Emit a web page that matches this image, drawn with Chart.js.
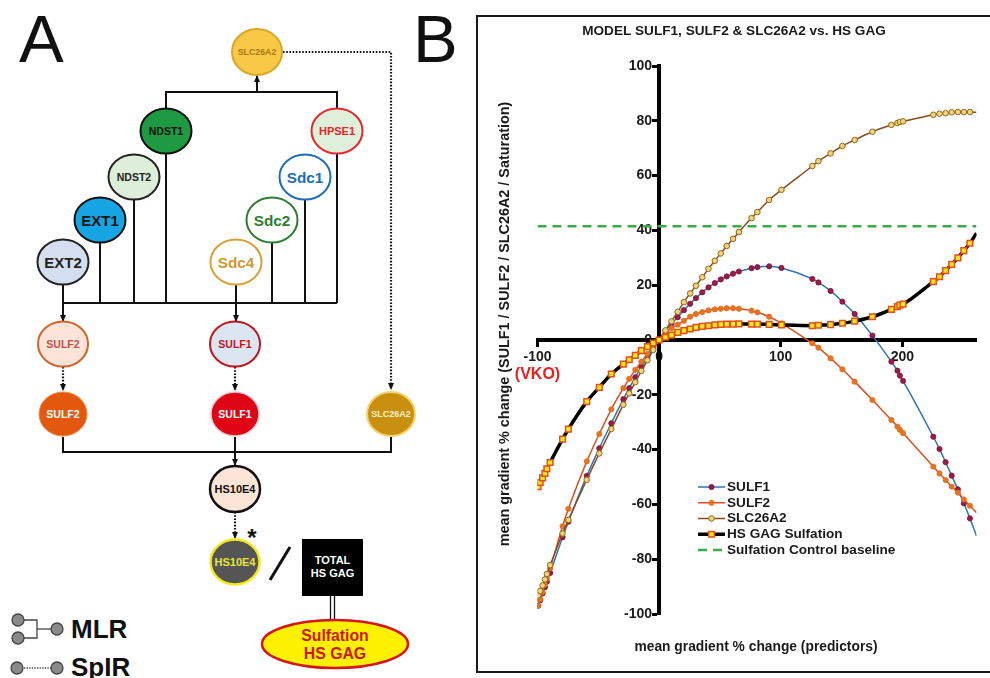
<!DOCTYPE html>
<html>
<head>
<meta charset="utf-8">
<script src="https://cdn.jsdelivr.net/npm/chart.js@4.4.1/dist/chart.umd.min.js"></script>
<style>
  html, body { margin: 0; padding: 0; background: #fff; overflow: hidden; }
  body { width: 990px; height: 678px; position: relative; font-family: "Liberation Sans", Arial, sans-serif; }
  #diagram { position: absolute; left: 0; top: 0; }
  #panelB { position: absolute; left: 476px; top: 15px; width: 520px; height: 654px; border: 2px solid #1a1a1a; }
  #chartB { position: absolute; left: 0; top: 0; }
</style>
</head>
<body>

<svg id="diagram" width="470" height="678" viewBox="0 0 470 678">
  <defs>
    <marker id="ah" viewBox="0 0 8 8" markerWidth="7" markerHeight="7" refX="7" refY="4" orient="auto" markerUnits="userSpaceOnUse">
      <path d="M0,0.5 L8,4 L0,7.5 z" fill="#111"/>
    </marker>
  </defs>
  <g font-family="'Liberation Sans', Arial, sans-serif">
    <text x="19" y="62" font-size="67" fill="#111">A</text>
    <text x="413" y="62" font-size="67" fill="#111">B</text>

    <!-- connectors -->
    <g stroke="#111" stroke-width="2" fill="none">
      <polyline points="166,109 166,92 337,92 337,109"/>
      <line x1="257" y1="92" x2="257" y2="76" marker-end="url(#ah)"/>
      <line x1="63" y1="303" x2="337" y2="303"/>
      <line x1="63" y1="285" x2="63" y2="321" marker-end="url(#ah)"/>
      <line x1="100" y1="243" x2="100" y2="303"/>
      <line x1="134" y1="200" x2="134" y2="303"/>
      <line x1="166" y1="153" x2="166" y2="303"/>
      <line x1="337" y1="153" x2="337" y2="303"/>
      <line x1="305" y1="200" x2="305" y2="303"/>
      <line x1="272" y1="243" x2="272" y2="303"/>
      <line x1="236" y1="285" x2="236" y2="321" marker-end="url(#ah)"/>
      <polyline points="63,437 63,452 391,452 391,437"/>
      <line x1="235" y1="437" x2="235" y2="465" marker-end="url(#ah)"/>
    </g>
    <g stroke="#111" stroke-width="2.2" fill="none" stroke-dasharray="1.6 1.6">
      <polyline points="283,52 391,52 391,389" marker-end="url(#ah)"/>
      <line x1="63" y1="367" x2="63" y2="390" marker-end="url(#ah)"/>
      <line x1="235" y1="367" x2="235" y2="390" marker-end="url(#ah)"/>
      <line x1="235" y1="512" x2="235" y2="538" marker-end="url(#ah)"/>
    </g>

    <!-- nodes -->
    <g font-weight="bold" text-anchor="middle" dominant-baseline="central">
      <ellipse cx="257" cy="52" rx="25" ry="23" fill="#F7C945" stroke="#DBA527" stroke-width="2"/>
      <text x="257" y="52" font-size="8.8" fill="#A8780F">SLC26A2</text>

      <ellipse cx="166" cy="131" rx="25.5" ry="22.5" fill="#1E9A42" stroke="#111" stroke-width="2"/>
      <text x="166" y="131" font-size="10.5" fill="#111">NDST1</text>

      <ellipse cx="134" cy="177" rx="25.5" ry="22.5" fill="#DDEFD8" stroke="#222" stroke-width="2"/>
      <text x="134" y="177" font-size="10.5" fill="#222">NDST2</text>

      <ellipse cx="100" cy="220" rx="25.5" ry="22.5" fill="#14A5E2" stroke="#111" stroke-width="2"/>
      <text x="100" y="220" font-size="15" fill="#111">EXT1</text>

      <ellipse cx="63" cy="262" rx="25.5" ry="22.5" fill="#D4DEEF" stroke="#222" stroke-width="2"/>
      <text x="63" y="262" font-size="15" fill="#222">EXT2</text>

      <ellipse cx="337" cy="131" rx="25.5" ry="22.5" fill="#DFF0DA" stroke="#E8262A" stroke-width="2"/>
      <text x="337" y="131" font-size="11" fill="#E8262A">HPSE1</text>

      <ellipse cx="305" cy="177" rx="25.5" ry="22.5" fill="#fff" stroke="#1B6DB5" stroke-width="2"/>
      <text x="305" y="177" font-size="15.3" fill="#1B6DB5">Sdc1</text>

      <ellipse cx="272" cy="220" rx="25.5" ry="22.5" fill="#fff" stroke="#2F7D2F" stroke-width="2"/>
      <text x="272" y="220" font-size="15.3" fill="#2F7D2F">Sdc2</text>

      <ellipse cx="236" cy="262" rx="25.5" ry="22.5" fill="#fff" stroke="#D9A035" stroke-width="2"/>
      <text x="236" y="262" font-size="15.3" fill="#D09A30">Sdc4</text>

      <ellipse cx="63" cy="344" rx="25" ry="22.5" fill="#FCE4D8" stroke="#D2632D" stroke-width="2"/>
      <text x="63" y="344" font-size="10.5" fill="#C0504D">SULF2</text>

      <ellipse cx="235" cy="344" rx="25" ry="22.5" fill="#DCE6F2" stroke="#C0141C" stroke-width="2"/>
      <text x="235" y="344" font-size="10.5" fill="#C0141C">SULF1</text>

      <ellipse cx="63" cy="414" rx="24" ry="22" fill="#E2590E" stroke="#EB8A4E" stroke-width="1"/>
      <text x="63" y="414" font-size="10.5" fill="#fff">SULF2</text>

      <ellipse cx="235" cy="414" rx="24" ry="22" fill="#E00515" stroke="#E7C7D6" stroke-width="1.5"/>
      <text x="235" y="414" font-size="10.5" fill="#fff">SULF1</text>

      <ellipse cx="391" cy="414" rx="24" ry="22" fill="#C99010" stroke="#F3D36C" stroke-width="2"/>
      <text x="391" y="414" font-size="9" fill="#FFF2C8">SLC26A2</text>

      <ellipse cx="235" cy="489" rx="25" ry="23" fill="#FCE4D6" stroke="#111" stroke-width="2.5"/>
      <text x="235" y="489" font-size="11" fill="#111">HS10E4</text>

      <ellipse cx="235" cy="562" rx="24.5" ry="22.5" fill="#555" stroke="#F2EA1C" stroke-width="2.5"/>
      <text x="235" y="562" font-size="11" fill="#E8E43A">HS10E4</text>

      <text x="252" y="537" font-size="24" fill="#111">*</text>
    </g>

    <line x1="290" y1="547" x2="270" y2="580" stroke="#111" stroke-width="3"/>
    <rect x="302" y="539" width="61" height="57" fill="#000"/>
    <g font-weight="bold" text-anchor="middle" font-size="11" fill="#fff">
      <text x="332.5" y="564">TOTAL</text>
      <text x="332.5" y="577">HS GAG</text>
    </g>
    <line x1="330.5" y1="596" x2="330.5" y2="622" stroke="#111" stroke-width="1.3"/>
    <line x1="334.5" y1="596" x2="334.5" y2="622" stroke="#111" stroke-width="1.3"/>
    <ellipse cx="335" cy="644" rx="73" ry="24" fill="#FFF200" stroke="#D8141A" stroke-width="2.5"/>
    <g font-weight="bold" text-anchor="middle" font-size="15.8" fill="#D01515">
      <text x="335" y="641">Sulfation</text>
      <text x="335" y="658.5">HS GAG</text>
    </g>

    <!-- key -->
    <g stroke="#444" stroke-width="1.3">
      <polyline points="24,620 37,620 37,638 24,638" fill="none"/>
      <line x1="37" y1="629" x2="51" y2="629"/>
      <circle cx="18" cy="620" r="6" fill="#8a8a8a"/>
      <circle cx="18" cy="638" r="6" fill="#8a8a8a"/>
      <circle cx="57" cy="629" r="6" fill="#8a8a8a"/>
      <line x1="24" y1="668" x2="51" y2="668" stroke-dasharray="1.3 1.3"/>
      <circle cx="17" cy="668" r="6" fill="#8a8a8a"/>
      <circle cx="57" cy="668" r="6" fill="#8a8a8a"/>
    </g>
    <g font-weight="bold" font-size="26" fill="#111">
      <text x="71" y="638">MLR</text>
      <text x="71" y="676">SpIR</text>
    </g>
  </g>
</svg>

<div id="panelB">
  <canvas id="chartB" width="512" height="652"></canvas>
</div>

<script>
// predictor values (x) shared by all model curves
const xPred = [-99.5, -97.8, -95.8, -93.9, -92.3, -89.6, -79.4, -74.6, -59.5, -49.2, -39.3, -29.4,
  -24.6, -19.6, -14.6, -9.6, -4.8, 0, 5.2, 10.2, 15.3, 20.4, 25.5, 30.3, 35.5, 40.6, 45.8, 50.7,
  55.6, 60.8, 65.6, 76, 80.8, 90.5, 100.6, 126, 131, 141, 150.7, 160.8, 175.4, 191, 196, 198,
  200.6, 225.5, 230.6, 235.6, 240.6, 245.7, 250.6, 255.6, 261];

const sulf1 = [-97, -95, -92.5, -90.2, -88.2, -85, -72, -66.3, -49.6, -39.5, -30.4, -21.6,
  -17.6, -13.6, -9.9, -6.4, -3.1, 0, 3.3, 6, 8.3, 10.9, 13.2, 15.3, 17.4, 19.2, 20.8, 22.1,
  23.2, 24.2, 25, 26.2, 26.6, 26.9, 26.3, 22.3, 21, 17.9, 14, 9.5, 1.6, -7.9, -11.2, -13,
  -14.9, -35.3, -39.8, -44.6, -49.5, -54.5, -59.6, -65.1, -71.5];

const sulf2 = [-97, -94.6, -92, -89.3, -87, -83.3, -68, -61.6, -44.3, -34.3, -25.3, -17.6,
  -14.2, -10.9, -7.9, -5.1, -2.5, 0, 2.6, 4.3, 5.6, 7, 8.5, 9.5, 10.2, 10.8, 11.2, 11.4,
  11.6, 11.6, 11.4, 10.7, 10.1, 8.5, 6.1, -1.2, -2.8, -6.7, -10.7, -15.2, -21.9, -29.2, -31.6, -32.8,
  -34, -46.2, -48.7, -51.1, -53.5, -55.7, -58.2, -60.5, -63];

const slc26a2 = [-93.2, -91.6, -89.6, -87.4, -85.4, -82.2, -70.6, -65.7, -51, -41.4, -32.5, -23.6,
  -19.5, -15.4, -11.3, -7.4, -3.6, 0, 3.5, 6.8, 10.3, 13.8, 17, 19.8, 22.9, 26, 28.9, 31.6,
  34.3, 36.9, 39.4, 44.5, 46.7, 51.1, 54.8, 63.5, 65.3, 68.1, 70.8, 73, 76, 78.5, 79.2, 79.6,
  79.8, 82.2, 82.6, 82.8, 83.1, 83.2, 83.2, 83.2, 83.1];

const hsGag = [-53.5, -52, -50.3, -48.7, -47, -44.7, -36.2, -32.5, -22.5, -17.3, -12.4, -8.8,
  -7.2, -5.6, -3.9, -2.4, -1.1, 0, 1, 1.8, 2.8, 3.4, 4, 4.6, 5, 5.2, 5.5, 5.7,
  5.8, 5.8, 5.9, 5.8, 5.8, 5.7, 5.5, 5.2, 5.4, 5.6, 6.1, 6.9, 8.5, 11.2, 12.2, 12.7,
  13.1, 21.3, 23.1, 25.3, 27.6, 30, 32.6, 35.3, 39];

const baselineX = [-100, 261];
const baselineY = [41.5, 41.5];

const seriesNames = ['SULF1', 'SULF2', 'SLC26A2', 'HS GAG Sulfation', 'Sulfation Control baseline'];
const chartTitle = 'MODEL SULF1, SULF2 & SLC26A2 vs. HS GAG';
const yTitle = 'mean gradient % change (SULF1 / SULF2 / SLC26A2 / Saturation)';
const xTitle = 'mean gradient % change (predictors)';

const toPts = (xs, ys) => xs.map((x, i) => ({ x: x, y: ys[i] }));
const lastIdx = xPred.length - 1;
const rad = r => c => (c.dataIndex === lastIdx ? 0 : r);
const FONT = '"Liberation Sans", Arial, sans-serif';

const datasets = [
  {
    label: seriesNames[0], data: toPts(xPred, sulf1), order: 4,
    borderColor: '#2E75B6', borderWidth: 1.5,
    pointRadius: rad(2.6), pointBackgroundColor: '#9B1B4A', pointBorderColor: '#7A1238', pointBorderWidth: 0.8
  },
  {
    label: seriesNames[1], data: toPts(xPred, sulf2), order: 3,
    borderColor: '#D9501E', borderWidth: 1.5,
    pointRadius: rad(2.6), pointBackgroundColor: '#E8731F', pointBorderColor: '#E06A1A', pointBorderWidth: 0.8
  },
  {
    label: seriesNames[2], data: toPts(xPred, slc26a2), order: 2,
    borderColor: '#8B4A1C', borderWidth: 1.5,
    pointRadius: rad(2.8), pointBackgroundColor: '#F3D27A', pointBorderColor: '#8C6A1E', pointBorderWidth: 1
  },
  {
    label: seriesNames[3], data: toPts(xPred, hsGag), order: 1,
    borderColor: '#000', borderWidth: 3.5,
    pointStyle: 'rect', pointRadius: rad(4), pointBackgroundColor: '#FFE81A', pointBorderColor: '#E0501A', pointBorderWidth: 1.5
  },
  {
    label: seriesNames[4], data: toPts(baselineX, baselineY), order: 5,
    borderColor: '#3DAA45', borderWidth: 2.5, borderDash: [9, 6], pointRadius: 0
  }
];

// titles, (VKO) label and the in-plot legend
const annotate = {
  id: 'annotate',
  afterDraw(chart) {
    const { ctx, scales: { x } } = chart;
    ctx.save();
    ctx.fillStyle = '#1a1a1a';
    ctx.textAlign = 'center';
    ctx.textBaseline = 'middle';
    ctx.font = 'bold 13.6px ' + FONT;
    ctx.fillText(chartTitle, 256, 14);
    ctx.font = 'bold 13.8px ' + FONT;
    ctx.fillText(xTitle, 278, 630);
    ctx.save();
    ctx.translate(27, 307);
    ctx.rotate(-Math.PI / 2);
    ctx.font = 'bold 14.4px ' + FONT;
    ctx.fillText(yTitle, 0, 0);
    ctx.restore();

    ctx.fillStyle = '#E8201E';
    ctx.font = 'bold 16px ' + FONT;
    ctx.fillText('(VKO)', x.getPixelForValue(-100), 358);

    // legend
    const lx0 = 220, lx1 = 247, ly0 = 470, step = 15.75;
    ctx.textAlign = 'left';
    ctx.font = 'bold 13.6px ' + FONT;
    datasets.forEach((ds, i) => {
      const yy = ly0 + i * step;
      ctx.save();
      ctx.strokeStyle = ds.borderColor;
      ctx.lineWidth = ds.borderWidth;
      ctx.setLineDash(ds.borderDash || []);
      ctx.beginPath();
      ctx.moveTo(lx0, yy);
      ctx.lineTo(lx1, yy);
      ctx.stroke();
      ctx.restore();
      if (i < 4) {
        const r = i === 3 ? 4 : (i === 2 ? 2.8 : 2.6);
        ctx.save();
        ctx.fillStyle = ds.pointBackgroundColor;
        ctx.strokeStyle = ds.pointBorderColor;
        ctx.lineWidth = ds.pointBorderWidth;
        Chart.helpers.drawPoint(ctx, { pointStyle: ds.pointStyle || 'circle', radius: r, borderWidth: ds.pointBorderWidth }, (lx0 + lx1) / 2, yy);
        ctx.restore();
      }
      ctx.fillStyle = '#1a1a1a';
      ctx.fillText(ds.label, lx1 + 2, yy);
    });
    ctx.restore();
  }
};

new Chart(document.getElementById('chartB').getContext('2d'), {
  type: 'line',
  data: { datasets: datasets },
  options: {
    responsive: false,
    animation: false,
    devicePixelRatio: 1,
    layout: { padding: { left: 59.5, right: 13.5, top: 49, bottom: 55 } },
    elements: { line: { cubicInterpolationMode: 'monotone', fill: false } },
    plugins: { legend: { display: false }, tooltip: { enabled: false } },
    scales: {
      x: {
        type: 'linear', min: -100, max: 261, position: { y: 0 },
        ticks: { stepSize: 100, includeBounds: false, color: '#1a1a1a', padding: 4, font: { family: FONT, size: 14, weight: 'bold' } },
        grid: { drawOnChartArea: false, drawTicks: true, tickLength: 5, tickWidth: 3, tickColor: '#000' },
        border: { display: true, width: 4, color: '#000' }
      },
      y: {
        type: 'linear', min: -100, max: 100, position: { x: 0 },
        ticks: {
          stepSize: 20, color: '#1a1a1a', font: { family: FONT, size: 14, weight: 'bold' },
          // labels sit flush on a centred axis, so pad them with an en space
          callback: v => v + '\u2002'
        },
        grid: { drawOnChartArea: false, drawTicks: true, tickLength: 5, tickWidth: 3, tickColor: '#000' },
        border: { display: true, width: 4, color: '#000' }
      }
    }
  },
  plugins: [annotate]
});
</script>
</body>
</html>
